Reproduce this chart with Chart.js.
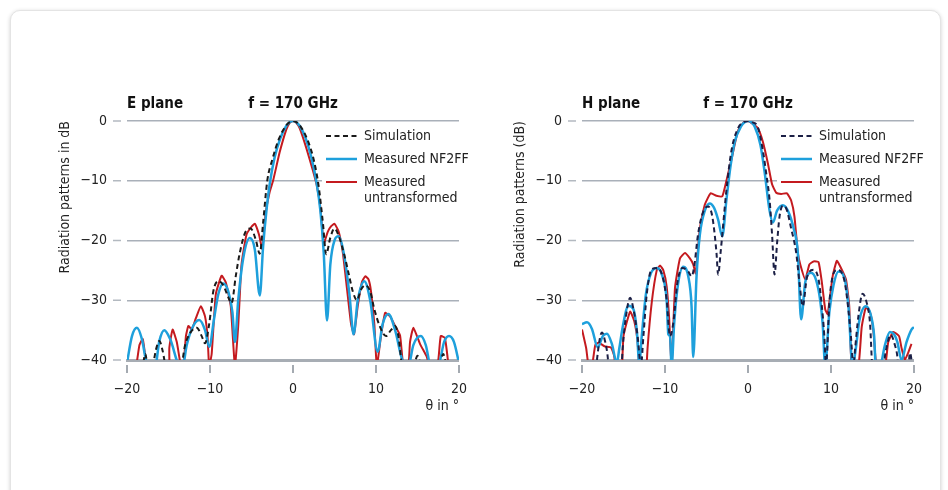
<!DOCTYPE html>
<html>
<head>
<meta charset="utf-8">
<script src="https://cdn.jsdelivr.net/npm/chart.js@4.4.0/dist/chart.umd.min.js"></script>
<style>
  body { margin: 0; background: #fff; }
  .card {
    position: absolute; left: 10px; top: 10px; width: 929px; height: 500px;
    border: 1px solid #e4e4e4; border-radius: 10px; background: #fff;
    box-shadow: 0 1px 4px rgba(0, 0, 0, 0.18);
  }
  .plot { position: absolute; top: 88px; }
</style>
</head>
<body>
<div class="card"></div>
<canvas id="ePlane" class="plot" width="430" height="330" style="left:50px"></canvas>
<canvas id="hPlane" class="plot" width="430" height="330" style="left:505px"></canvas>
<script>
// ticks
const xTickValues = [-20, -10, 0, 10, 20];
const xTickLabels = ['\u221220', '\u221210', '0', '10', '20'];
const yTickValues = [-40, -30, -20, -10, 0];
const yTickLabels = ['\u221240', '\u221230', '\u221220', '\u221210', '0'];
const legendLabels = ['Simulation', 'Measured NF2FF', ['Measured', 'untransformed']];

// E plane, [theta in deg, dB]
const eSimulation = [
  [-20, -45], [-18.2, -42], [-17.8, -39], [-17.4, -42],
  [-16.9, -41], [-16.5, -38.2], [-16.1, -36.8], [-15.7, -38.5], [-15.3, -41],
  [-13.5, -41], [-13.0, -37.5], [-12.4, -35.5], [-11.6, -34.6], [-11.0, -36], [-10.6, -37.2],
  [-10.1, -34], [-9.6, -28.5], [-9.0, -26.8], [-8.4, -27.5], [-7.8, -29.5], [-7.4, -30.5],
  [-6.9, -26], [-6.4, -22], [-5.7, -18.5], [-5.1, -18], [-4.5, -19.8], [-4.0, -22.2],
  [-3.6, -17], [-3.1, -10], [-2.5, -6.5], [-1.7, -3], [-0.9, -0.9], [-0.4, -0.2], [0, 0],
  [0.4, -0.2], [0.9, -0.9], [1.7, -3], [2.5, -6.5], [3.1, -11], [3.6, -17], [4.0, -22.3],
  [4.5, -19.5], [5.0, -18], [5.5, -19.2], [6.2, -22.5], [6.7, -25.5], [7.2, -28.5], [7.7, -30],
  [8.2, -28.2], [8.7, -27.5], [9.3, -28.5], [9.8, -31.5], [10.5, -34.5], [11.2, -36],
  [11.8, -35], [12.3, -34.3], [12.7, -36], [13.2, -41],
  [14.5, -41], [15.0, -39.3], [15.5, -41], [17.6, -41], [18.1, -39], [18.5, -41], [20, -45]
];
const eNF2FF = [
  [-20, -40.5], [-19.4, -36], [-18.8, -34.6], [-18.2, -36.5], [-17.6, -40.5],
  [-16.6, -41], [-16.1, -36.8], [-15.5, -35], [-14.8, -36.5], [-13.6, -41],
  [-13.3, -41], [-12.8, -37.5], [-12.2, -34.8], [-11.3, -33.3], [-10.6, -35], [-10.1, -37.8],
  [-9.5, -33], [-9.0, -29], [-8.4, -27.2], [-7.8, -28.5], [-7.3, -32], [-7.0, -37],
  [-6.6, -30], [-6.0, -23], [-5.2, -19.6], [-4.6, -21.5], [-4.0, -29.2],
  [-3.6, -21], [-3.2, -15], [-2.8, -10.5], [-2.2, -6], [-1.5, -2.8], [-0.8, -0.8], [-0.4, -0.2], [0, 0],
  [0.4, -0.2], [0.8, -0.8], [1.5, -2.8], [2.2, -6], [2.8, -10], [3.3, -15], [3.7, -22], [4.1, -33.4],
  [4.5, -24], [5.0, -20], [5.5, -19.3], [6.1, -22], [6.8, -29], [7.3, -35.7],
  [7.8, -30], [8.6, -26.8], [9.3, -30], [10.2, -38.6],
  [10.8, -34], [11.5, -32.3], [12.3, -35], [13.3, -40.5],
  [13.9, -41], [14.5, -37.5], [15.4, -36], [16.0, -37.5], [16.6, -41],
  [17.6, -40.5], [18.2, -37], [18.8, -36], [19.4, -37], [20, -40.5]
];
const eUntransformed = [
  [-20, -45], [-18.9, -41], [-18.5, -37.5], [-18.1, -36.5], [-17.7, -40.5], [-17.3, -45],
  [-15.0, -45], [-14.9, -38], [-14.5, -34.9], [-14.0, -37], [-13.5, -41],
  [-13.2, -41], [-12.9, -36], [-12.6, -34.3], [-12.2, -34.9], [-11.7, -33], [-11.1, -31],
  [-10.6, -32.7], [-10.3, -36], [-10.1, -41],
  [-9.8, -39], [-9.3, -29], [-8.6, -25.9], [-8.1, -27], [-7.5, -31], [-7.0, -41],
  [-6.6, -34.3], [-6.2, -24], [-5.6, -19], [-5.0, -17.7], [-4.6, -17.2], [-4.1, -19], [-3.7, -21.4],
  [-3.3, -15.5], [-2.8, -11.8], [-2.4, -10], [-1.6, -5.2], [-0.8, -1.4], [-0.4, -0.3], [0, 0],
  [0.4, -0.3], [0.8, -1.2], [1.6, -4.5], [2.4, -8.3], [2.9, -11], [3.3, -14.5], [3.7, -20.5],
  [4.2, -18.5], [4.6, -17.6], [5.0, -17.2], [5.5, -18.5], [6.0, -22], [6.5, -28], [7.0, -34], [7.35, -35.7],
  [7.8, -31], [8.3, -27], [8.7, -26], [9.1, -26.5], [9.4, -28.5], [9.8, -34], [10.1, -41],
  [10.6, -36], [11.1, -32.1], [11.7, -32.7], [12.3, -34.3], [12.9, -35.9], [13.3, -41],
  [13.9, -41], [14.1, -37], [14.5, -34.6], [15.3, -37.3], [16.1, -39.4], [16.5, -41],
  [17.4, -41], [17.8, -36], [18.3, -36.3], [18.7, -40.5], [19.0, -45], [20, -45]
];

// H plane, [theta in deg, dB]
const hSimulation = [
  [-20, -45], [-18.5, -45], [-18.2, -40], [-17.6, -35.4], [-17.2, -37], [-16.9, -39.5], [-16.6, -45],
  [-15.4, -45], [-15.1, -38], [-14.7, -32.7], [-14.2, -29.6], [-13.8, -31.5], [-13.3, -36], [-12.9, -41],
  [-12.6, -36], [-12.2, -29], [-11.6, -24.8], [-10.9, -24.6], [-10.3, -26], [-9.8, -30], [-9.4, -36],
  [-9.0, -33.8], [-8.5, -27], [-7.9, -24.6], [-7.2, -25.2], [-6.8, -26], [-6.5, -24.5],
  [-6.0, -18.8], [-5.4, -15.2], [-4.8, -14.3], [-4.3, -16], [-3.8, -22], [-3.6, -25.7], [-3.3, -22], [-3.0, -17.5],
  [-2.6, -11.6], [-2.0, -5], [-1.2, -1.2], [-0.5, -0.2], [0, 0], [0.5, -0.2], [1.2, -1.1], [1.8, -5],
  [2.2, -8.8], [2.6, -13.2], [2.9, -19], [3.2, -25.7],
  [3.5, -20.5], [3.8, -16], [4.2, -14.2], [4.6, -14.6], [5.2, -18], [5.8, -22], [6.2, -27], [6.6, -31],
  [7.1, -26.2], [7.9, -24.9], [8.5, -26.5], [8.9, -31], [9.2, -36], [9.4, -41],
  [9.8, -30.5], [10.2, -26], [10.8, -24.9], [11.6, -26.6], [12.0, -30.4], [12.4, -36], [12.7, -41],
  [12.9, -38.2], [13.3, -32.7], [13.8, -28.9], [14.3, -30.4], [14.7, -33.8], [15.0, -41],
  [16.3, -41], [16.6, -38.5], [17.2, -35.8], [17.7, -37.5], [18.0, -39.5], [18.3, -45],
  [19.2, -45], [19.5, -38.8], [19.7, -40], [20, -45]
];
const hNF2FF = [
  [-20, -34], [-19.4, -33.7], [-18.8, -34.8], [-18.1, -37.9], [-17.5, -36], [-17.0, -35.6],
  [-16.4, -37.3], [-15.8, -40.5], [-15.5, -38],
  [-15.1, -34.5], [-14.4, -30.9], [-13.8, -31.5], [-13.4, -35], [-13.1, -40.5],
  [-12.8, -36], [-12.3, -29], [-11.7, -25.5], [-11.0, -24.6], [-10.3, -26], [-9.8, -30],
  [-9.6, -35.7], [-9.4, -36], [-9.2, -41],
  [-8.9, -34], [-8.5, -28], [-7.8, -24.4], [-7.2, -26], [-6.8, -31], [-6.6, -39.5],
  [-6.2, -26], [-5.8, -19], [-5.2, -15], [-4.6, -13.8], [-4.1, -14.5], [-3.6, -16.5], [-3.1, -19.3],
  [-2.6, -13.2], [-2.1, -7.5], [-1.6, -3.5], [-0.8, -0.8], [-0.4, -0.2], [0, 0], [0.4, -0.2], [0.8, -0.9],
  [1.5, -4], [2.0, -8.5], [2.6, -15], [3.0, -17],
  [3.5, -15], [4.2, -14.1], [4.8, -15], [5.5, -18], [6.0, -22], [6.4, -33.2],
  [6.9, -27], [7.6, -25.4], [8.2, -26.6], [8.7, -30], [9.0, -34], [9.3, -41],
  [9.8, -32], [10.3, -27.5], [10.9, -25.2], [11.6, -26.2], [12.1, -31], [12.6, -41],
  [13.0, -38], [13.4, -33.5], [14.2, -31], [14.8, -32.5], [15.2, -36], [15.4, -41],
  [15.9, -41], [16.5, -37.5], [17.1, -35.3], [17.6, -35.7], [18.0, -37], [18.5, -40],
  [19.1, -37], [19.7, -34.9], [20, -34.5]
];
const hUntransformed = [
  [-20, -34.9], [-19.5, -38], [-19.2, -41], [-18.8, -41], [-18.4, -37.5], [-18.0, -37.1],
  [-17.3, -37.7], [-16.5, -37.9], [-16.1, -39.5], [-15.8, -45],
  [-15.3, -45], [-15.0, -36], [-14.2, -31.9], [-13.7, -33.5], [-13.3, -37], [-12.9, -45],
  [-12.4, -45], [-12.1, -38], [-11.6, -30.4], [-11.0, -25], [-10.6, -24.2], [-10.2, -25],
  [-9.8, -27.7], [-9.5, -33], [-9.2, -41],
  [-8.8, -28], [-8.2, -23], [-7.6, -22.1], [-7.0, -23], [-6.6, -24], [-6.3, -25.5],
  [-5.8, -18], [-5.2, -14], [-4.5, -12.1], [-3.8, -12.5], [-3.1, -12.6], [-2.6, -10],
  [-2.0, -6.5], [-1.2, -1.6], [-0.5, -0.2], [0, 0],
  [0.6, -0.5], [1.2, -1.2], [1.8, -3.5], [2.4, -7.1], [2.9, -10.6], [3.4, -12], [4.0, -12.2],
  [4.7, -12.1], [5.2, -13.3], [5.6, -16], [6.0, -22], [6.3, -24], [6.9, -26.5],
  [7.4, -24], [7.9, -23.5], [8.5, -23.6], [8.9, -27], [9.3, -31.5], [9.6, -32.3],
  [10.2, -26], [10.7, -23.4], [11.1, -24.3], [11.8, -26.5], [12.2, -31], [12.5, -41],
  [13.3, -41], [13.7, -34.5], [14.2, -31.2], [14.7, -32], [15.1, -35], [15.5, -41],
  [16.5, -41], [16.9, -37], [17.5, -35.3], [18.2, -36], [18.5, -38], [18.9, -40],
  [19.3, -38.8], [19.7, -37.3]
];

const FONT = '"Liberation Sans Narrow", "DejaVu Sans Condensed", "Arial Narrow", sans-serif';
const BLUE = '#1ea0dc';
const RED = '#c41a1f';
const GRID = '#a9b0b9';

// headings, legend and small tick marks
const decor = {
  id: 'decor',
  beforeDatasetsDraw(chart) {
    // white patch behind the legend hides the grid lines only
    const area = chart.chartArea;
    const ctx = chart.ctx;
    ctx.save();
    ctx.fillStyle = '#fff';
    ctx.fillRect(area.right - 137, area.top + 6, 140, 80);
    ctx.restore();
  },
  afterDatasetsDraw(chart, args, opts) {
    const ctx = chart.ctx;
    const area = chart.chartArea;
    const xs = chart.scales.x;
    const ys = chart.scales.y;
    ctx.save();

    ctx.strokeStyle = '#b3b9c0';
    ctx.lineWidth = 1.5;
    yTickValues.forEach(v => {
      const y = ys.getPixelForValue(v);
      ctx.beginPath();
      ctx.moveTo(area.left - 14, y);
      ctx.lineTo(area.left - 6, y);
      ctx.stroke();
    });
    ctx.strokeStyle = '#a4aab1';
    ctx.lineWidth = 2;
    xTickValues.forEach(v => {
      const x = xs.getPixelForValue(v);
      ctx.beginPath();
      ctx.moveTo(x, area.bottom + 5);
      ctx.lineTo(x, area.bottom + 13);
      ctx.stroke();
    });

    ctx.fillStyle = '#111';
    ctx.font = 'bold 15px ' + FONT;
    ctx.textBaseline = 'middle';
    ctx.textAlign = 'left';
    ctx.fillText(opts.plane, area.left, area.top - 17);
    ctx.textAlign = 'center';
    ctx.fillText('f = 170 GHz', xs.getPixelForValue(0), area.top - 17);

    // legend
    const lx = area.right - 133;
    const rows = [area.top + 15, area.top + 38, area.top + 61];
    const styles = [
      { color: opts.simColor, dash: [5, 3.5], width: 2 },
      { color: BLUE, dash: [], width: 2.5 },
      { color: RED, dash: [], width: 2 }
    ];
    styles.forEach((s, i) => {
      ctx.strokeStyle = s.color;
      ctx.lineWidth = s.width;
      ctx.setLineDash(s.dash);
      ctx.beginPath();
      ctx.moveTo(lx, rows[i]);
      ctx.lineTo(lx + 31, rows[i]);
      ctx.stroke();
    });
    ctx.setLineDash([]);
    ctx.fillStyle = '#222';
    ctx.font = '14px ' + FONT;
    ctx.textAlign = 'left';
    legendLabels.forEach((lab, i) => {
      if (Array.isArray(lab)) {
        ctx.fillText(lab[0], lx + 38, rows[i]);
        ctx.fillText(lab[1], lx + 38, rows[i] + 16);
      } else {
        ctx.fillText(lab, lx + 38, rows[i]);
      }
    });
    ctx.restore();
  }
};

function toPoints(pairs) {
  return pairs.map(p => ({ x: p[0], y: p[1] }));
}

function makeChart(id, plane, yTitle, sim, nf2ff, raw, simColor) {
  const ctx = document.getElementById(id).getContext('2d');
  return new Chart(ctx, {
    type: 'line',
    data: {
      datasets: [
        { label: 'Simulation', data: toPoints(sim), borderColor: simColor, borderWidth: 2,
          borderDash: [5, 3.5], cubicInterpolationMode: 'monotone' },
        { label: 'Measured NF2FF', data: toPoints(nf2ff), borderColor: BLUE, borderWidth: 2.5,
          cubicInterpolationMode: 'monotone' },
        { label: 'Measured untransformed', data: toPoints(raw), borderColor: RED, borderWidth: 2,
          tension: 0.15 }
      ]
    },
    options: {
      responsive: false,
      animation: false,
      devicePixelRatio: 1,
      elements: { point: { radius: 0 } },
      layout: { padding: { top: 33, right: 0, left: 0, bottom: 0 } },
      plugins: {
        legend: { display: false },
        tooltip: { enabled: false },
        decor: { plane: plane, simColor: simColor }
      },
      scales: {
        x: {
          type: 'linear',
          min: -20,
          max: 20,
          afterFit: s => { s.height = 58; },
          afterBuildTicks: s => { s.ticks = xTickValues.map(v => ({ value: v })); },
          ticks: {
            padding: 13,
            color: '#222',
            font: { family: FONT, size: 14 },
            callback: v => xTickLabels[xTickValues.indexOf(v)]
          },
          grid: { display: false },
          border: { display: true, color: '#a7adb4', width: 3 },
          title: {
            display: true, text: '\u03b8 in \u00b0', align: 'end',
            color: '#222', font: { family: FONT, size: 14 }, padding: { top: 0, bottom: 3 }
          }
        },
        y: {
          min: -40,
          max: 0,
          afterFit: s => { s.width = 77; },
          afterBuildTicks: s => { s.ticks = yTickValues.map(v => ({ value: v })); },
          ticks: {
            padding: 20,
            color: '#222',
            font: { family: FONT, size: 14 },
            callback: v => yTickLabels[yTickValues.indexOf(v)]
          },
          grid: { color: GRID, lineWidth: 1.5, drawTicks: false },
          border: { display: false },
          title: {
            display: true, text: yTitle, align: 'end',
            color: '#222', font: { family: FONT, size: 14 }, padding: { top: 7, bottom: 0 }
          }
        }
      }
    },
    plugins: [decor]
  });
}

makeChart('ePlane', 'E plane', 'Radiation patterns in dB', eSimulation, eNF2FF, eUntransformed, '#1a1a1a');
makeChart('hPlane', 'H plane', 'Radiation patterns (dB)', hSimulation, hNF2FF, hUntransformed, '#1b1f45');
</script>
</body>
</html>
